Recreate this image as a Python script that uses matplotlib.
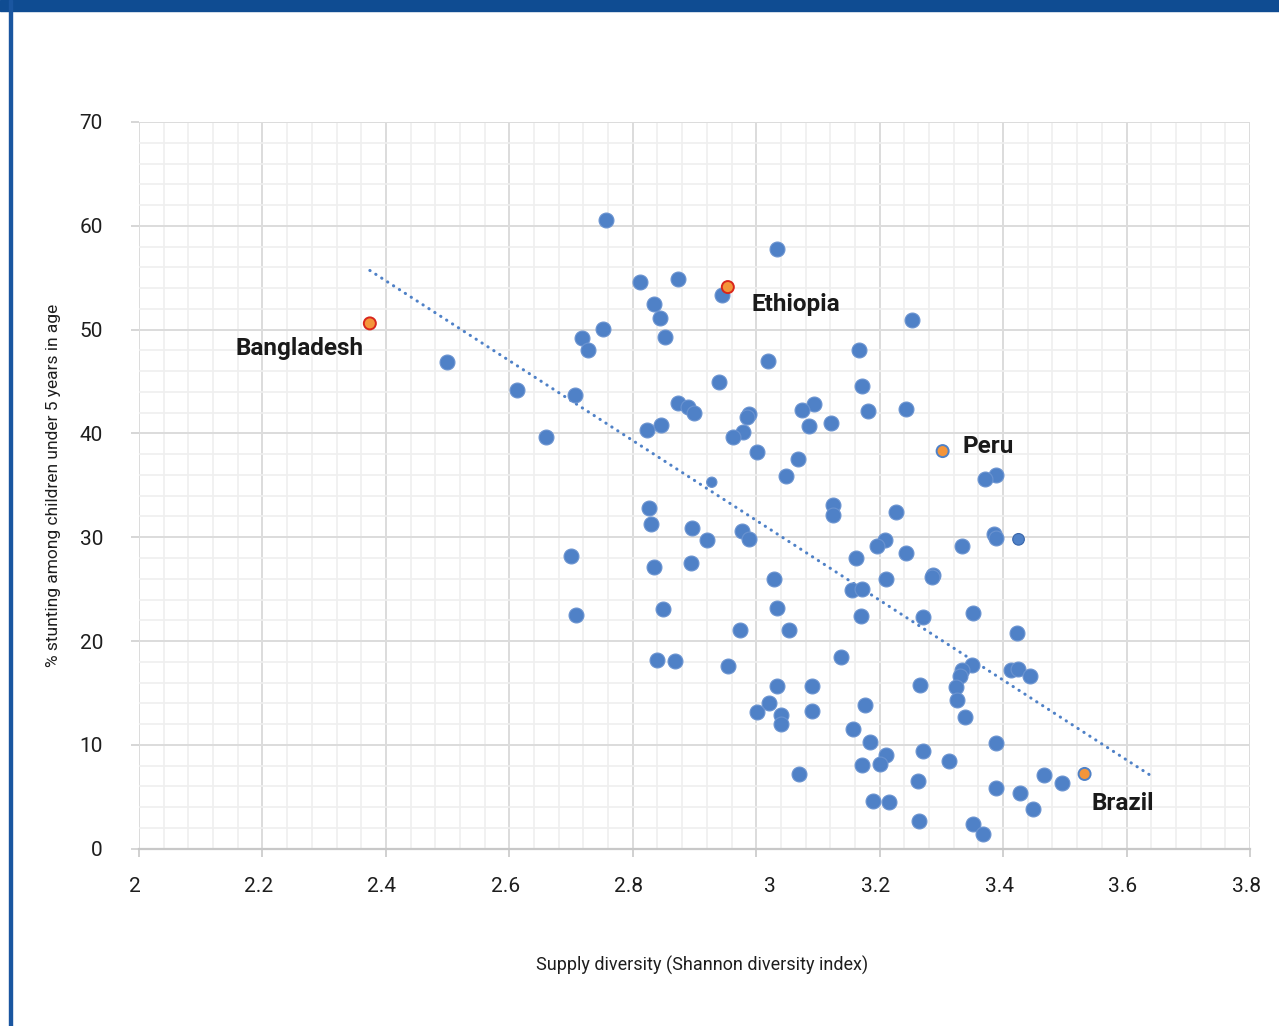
import matplotlib.pyplot as plt
from matplotlib.patches import Rectangle
from matplotlib.ticker import MultipleLocator
import matplotlib.transforms as mtransforms

plt.rcParams['font.family'] = ['Roboto', 'DejaVu Sans']

# supply diversity (x) and % stunting (y), one pair per country
div = [2.756, 3.033, 2.811, 2.873, 2.944, 2.834, 2.844, 3.252, 2.751, 2.717,
       2.853, 2.727, 3.166, 2.499, 3.019, 3.172, 2.939, 2.612, 2.706, 2.873,
       2.889, 2.899, 3.093, 3.074, 3.181, 3.242, 2.989, 2.985, 2.845, 3.121,
       3.085, 2.823, 2.978, 2.962, 2.659, 3.002, 3.067, 3.049, 3.389, 3.370,
       3.124, 2.826, 3.124, 3.226, 2.829, 2.896, 2.977, 3.386, 3.389, 2.988,
       2.920, 3.208, 3.195, 3.333, 3.242, 2.700, 3.161, 2.894, 3.287, 3.284,
       2.834, 3.028, 3.211, 3.155, 3.171, 3.033, 2.849, 3.351, 3.169, 2.708,
       3.271, 2.973, 3.053, 3.422, 2.839, 2.868, 3.138, 2.954, 3.349, 3.334,
       3.412, 3.424, 3.330, 3.443, 3.033, 3.091, 3.266, 3.323, 3.325, 3.176,
       3.020, 3.002, 3.040, 3.090, 3.040, 3.338, 3.157, 3.185, 3.389, 3.270,
       3.210, 3.200, 3.171, 3.313, 3.070, 3.466, 3.495, 3.262, 3.388, 3.428,
       3.190, 3.215, 3.448, 3.263, 3.351, 3.368]
stunt = [60.6, 57.8, 54.6, 54.9, 53.3, 52.5, 51.1, 50.9, 50.1, 49.2,
         49.3, 48.0, 48.0, 46.9, 47.0, 44.6, 45.0, 44.2, 43.7, 42.9,
         42.5, 42.0, 42.8, 42.3, 42.2, 42.4, 41.9, 41.6, 40.8, 41.0,
         40.7, 40.3, 40.1, 39.7, 39.7, 38.2, 37.5, 35.9, 36.0, 35.6,
         33.1, 32.8, 32.1, 32.4, 31.3, 30.9, 30.6, 30.3, 29.9, 29.8,
         29.7, 29.7, 29.2, 29.2, 28.5, 28.2, 28.0, 27.5, 26.4, 26.2,
         27.1, 26.0, 26.0, 24.9, 25.0, 23.2, 23.1, 22.7, 22.4, 22.5,
         22.3, 21.1, 21.1, 20.8, 18.2, 18.1, 18.5, 17.6, 17.7, 17.2,
         17.2, 17.3, 16.6, 16.6, 15.7, 15.7, 15.8, 15.6, 14.3, 13.8,
         14.0, 13.2, 12.9, 13.3, 12.0, 12.7, 11.5, 10.3, 10.2, 9.4,
         9.0, 8.2, 8.1, 8.4, 7.2, 7.1, 6.3, 6.5, 5.8, 5.4,
         4.6, 4.5, 3.8, 2.7, 2.4, 1.4]

# two odd-looking smaller points
small_x = [2.928, 3.425]
small_y = [35.3, 29.8]

# labelled countries
names = ['Bangladesh', 'Ethiopia', 'Peru', 'Brazil']
hl_x = [2.374, 2.954, 3.302, 3.532]
hl_y = [50.6, 54.1, 38.3, 7.2]
hl_edge = ['#d9261c', '#d9261c', '#4f81c7', '#4f81c7']
lab_x = [2.157, 2.992, 3.335, 3.544]
lab_y = [48.2, 52.4, 38.7, 4.4]

# trend line end points
trend_x = [2.374, 3.643]
trend_y = [55.7, 6.9]

blue = '#4f81c7'

fig = plt.figure(figsize=(12.79, 10.26), dpi=100)
fig.patches.append(Rectangle((0, 1 - 11 / 1026), 1, 11 / 1026, transform=fig.transFigure,
                             color='#0f4c92', zorder=0))
fig.patches.append(Rectangle((9 / 1279, 0), 3 / 1279, 1, transform=fig.transFigure,
                             color='#1a56a0', zorder=0))

ax = fig.add_axes([139 / 1279, 1 - 848.7 / 1026, 1111 / 1279, 726.7 / 1026])
ax.set_xlim(2, 3.8)
ax.set_ylim(0, 70)
ax.xaxis.set_major_locator(MultipleLocator(0.2))
ax.xaxis.set_minor_locator(MultipleLocator(0.04))
ax.yaxis.set_major_locator(MultipleLocator(10))
ax.yaxis.set_minor_locator(MultipleLocator(2))
ax.grid(which='minor', color='#efefef', lw=1.2, zorder=0)
ax.grid(which='major', color='#dcdcdc', lw=1.4, zorder=0)
for s in ax.spines.values():
    s.set_visible(False)
ax.spines['bottom'].set_visible(True)
ax.spines['bottom'].set_color('#c8c8c8')
ax.spines['bottom'].set_linewidth(1.6)
ax.set_axisbelow(True)

ax.tick_params(which='minor', length=0)
ax.tick_params(axis='x', which='major', length=5.5, width=1.2, color='#c8c8c8',
               labelsize=15, labelcolor='#1e1e1e', pad=15)
ax.tick_params(axis='y', which='major', length=6, width=1.2, color='#d0d0d0',
               labelsize=15, labelcolor='#1e1e1e', pad=20)
ax.set_xticks([2, 2.2, 2.4, 2.6, 2.8, 3, 3.2, 3.4, 3.6, 3.8])
ax.set_xticklabels(['2', '2.2', '2.4', '2.6', '2.8', '3', '3.2', '3.4', '3.6', '3.8'])
for lab in ax.get_xticklabels():
    if lab.get_text() == '3':
        lab.set_transform(lab.get_transform() + mtransforms.ScaledTranslation(0.14, 0, fig.dpi_scale_trans))
    else:
        lab.set_transform(lab.get_transform() + mtransforms.ScaledTranslation(-0.04, 0, fig.dpi_scale_trans))

ax.plot(trend_x, trend_y, color=blue, lw=2.2, linestyle=(0, (0.1, 2.2)),
        dash_capstyle='round', zorder=2)
ax.scatter(div, stunt, s=115, color=blue, edgecolors='#6a93d0', linewidths=0.8, zorder=3)
ax.scatter(small_x, small_y, s=[55, 70], color=blue, edgecolors=['#6a93d0', '#3a66aa'],
           linewidths=0.8, zorder=3)
ax.scatter(hl_x, hl_y, s=75, color='#f4953a', edgecolors=hl_edge, linewidths=1.4, zorder=4)
for n, tx, ty in zip(names, lab_x, lab_y):
    ax.text(tx, ty, n, ha='left', va='center', fontsize=17.5, fontweight='bold',
            color='#1a1a1a', zorder=5)

ax.set_xlabel('Supply diversity (Shannon diversity index)', fontsize=13, color='#1e1e1e')
ax.xaxis.set_label_coords(0.507, -0.148)
ax.set_ylabel('% stunting among children under 5 years in age', fontsize=12.5, color='#1e1e1e')
ax.yaxis.set_label_coords(-0.07, 0.5)

fig.savefig('out.png', dpi=100)
